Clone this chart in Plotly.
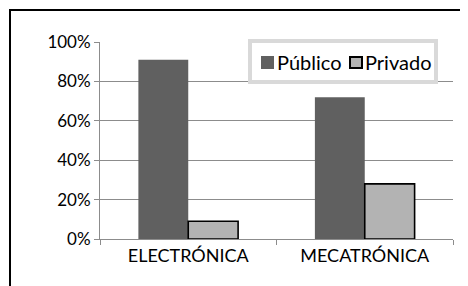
import plotly.graph_objects as go

categories = ["ELECTRÓNICA", "MECATRÓNICA"]
series_names = ["Público", "Privado"]
publico = [0.91, 0.72]
privado = [0.09, 0.28]
y_ticks = [0, 0.2, 0.4, 0.6, 0.8, 1.0]

colors = ["#606060", "#b3b3b3"]

OFF = 8  # default page body margin
W, H = 460, 278
L, R, T, B = 92, 15, 34, 47
pw, ph = W - L - R, H - T - B
FONT = "Lato, Open Sans, sans-serif"

def px_x(x):
    return (x - OFF - L) / pw

def px_y(y):
    return (H - B - (y - OFF)) / ph

fig = go.Figure()
fig.add_trace(go.Bar(name=series_names[0], x=categories, y=publico, showlegend=False,
                     marker=dict(color=colors[0], line=dict(width=0))))
fig.add_trace(go.Bar(name=series_names[1], x=categories, y=privado, showlegend=False,
                     marker=dict(color=colors[1], line=dict(color="#000000", width=1.6))))

shapes = [
    # outer chart frame
    dict(type="rect", xref="paper", yref="paper",
         x0=px_x(10), x1=px_x(463), y0=px_y(300), y1=px_y(10),
         line=dict(color="#000000", width=2), layer="below"),
    # legend box
    dict(type="rect", xref="paper", yref="paper",
         x0=px_x(250), x1=px_x(436), y0=px_y(82), y1=px_y(41),
         fillcolor="white", line=dict(color="#d9d9d9", width=4), layer="above"),
    # legend swatches
    dict(type="rect", xref="paper", yref="paper",
         x0=px_x(261), x1=px_x(274), y0=px_y(69), y1=px_y(56),
         fillcolor=colors[0], line=dict(width=0), layer="above"),
    dict(type="rect", xref="paper", yref="paper",
         x0=px_x(350), x1=px_x(362), y0=px_y(68), y1=px_y(57),
         fillcolor=colors[1], line=dict(color="#000000", width=2), layer="above"),
]

annotations = [
    dict(xref="paper", yref="paper", x=px_x(275), y=px_y(62), xanchor="left", yanchor="middle",
         text=series_names[0], showarrow=False, font=dict(family=FONT, size=20, color="#000000")),
    dict(xref="paper", yref="paper", x=px_x(363), y=px_y(62), xanchor="left", yanchor="middle",
         text=series_names[1], showarrow=False, font=dict(family=FONT, size=20, color="#000000")),
]

fig.update_layout(
    width=W, height=H,
    margin=dict(l=L, r=R, t=T, b=B),
    paper_bgcolor="white", plot_bgcolor="white",
    barmode="group", bargap=0.435, bargroupgap=0,
    showlegend=False,
    font=dict(family=FONT, size=17, color="#000000"),
    xaxis=dict(showgrid=False, showline=True, linecolor="#8c8c8c", linewidth=1,
               ticks="outside", tickson="boundaries", ticklen=5, tickcolor="#8c8c8c",
               tickfont=dict(size=18)),
    yaxis=dict(range=[0, 1], tickvals=y_ticks, tickformat=".0%",
               showgrid=True, gridcolor="#8c8c8c", gridwidth=1,
               showline=True, linecolor="#8c8c8c", linewidth=1,
               ticks="outside", ticklen=5, tickcolor="#8c8c8c", zeroline=False),
    shapes=shapes,
    annotations=annotations,
)

fig.write_html("out.html")
